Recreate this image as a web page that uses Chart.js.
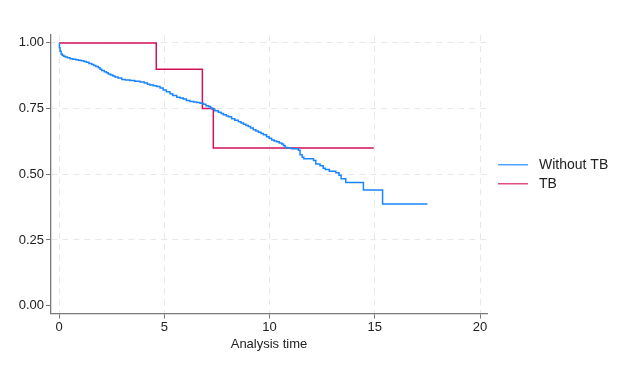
<!DOCTYPE html>
<html>
<head>
<meta charset="utf-8">
<script src="https://cdn.jsdelivr.net/npm/chart.js@4"></script>
<style>
html,body{margin:0;padding:0;background:#fff;}
#wrap{width:635px;height:365px;}
</style>
</head>
<body>
<div id="wrap"><canvas id="c" width="635" height="365"></canvas></div>
<script>
// Kaplan-Meier estimates, group "Without TB"
const kmTime = [0, 0.02, 0.05, 0.1, 0.15, 0.22, 0.3, 0.4, 0.52, 0.65, 0.8, 0.92, 1.05, 1.18, 1.3, 1.42, 1.55, 1.65, 1.75, 1.87, 1.95, 2.03, 2.15, 2.25, 2.34, 2.45, 2.56, 2.66, 2.8, 2.98, 3.15, 3.37, 3.6, 3.85, 4.05, 4.2, 4.32, 4.48, 4.64, 4.8, 4.95, 5.1, 5.27, 5.4, 5.59, 5.75, 5.9, 6.05, 6.22, 6.4, 6.54, 6.7, 6.86, 6.98, 7.1, 7.2, 7.27, 7.4, 7.57, 7.7, 7.81, 7.95, 8.05, 8.2, 8.35, 8.52, 8.65, 8.76, 8.88, 8.99, 9.1, 9.23, 9.35, 9.47, 9.6, 9.71, 9.86, 9.98, 10.1, 10.22, 10.34, 10.46, 10.58, 10.66, 10.74, 10.85, 11.05, 11.37, 11.45, 11.55, 11.63, 12.09, 12.2, 12.4, 12.55, 12.65, 12.84, 13.15, 13.3, 13.4, 13.62, 14.46, 15.37, 17.5];
const kmSurvival = [1.0, 0.981, 0.968, 0.958, 0.953, 0.949, 0.946, 0.943, 0.940, 0.938, 0.936, 0.934, 0.932, 0.929, 0.926, 0.922, 0.918, 0.914, 0.910, 0.905, 0.900, 0.895, 0.890, 0.886, 0.882, 0.878, 0.874, 0.870, 0.866, 0.861, 0.859, 0.857, 0.854, 0.851, 0.847, 0.843, 0.840, 0.837, 0.834, 0.828, 0.821, 0.814, 0.806, 0.800, 0.793, 0.790, 0.786, 0.781, 0.777, 0.775, 0.773, 0.770, 0.766, 0.761, 0.758, 0.752, 0.748, 0.742, 0.736, 0.731, 0.726, 0.722, 0.719, 0.711, 0.706, 0.700, 0.695, 0.690, 0.686, 0.682, 0.676, 0.669, 0.665, 0.660, 0.655, 0.650, 0.643, 0.637, 0.630, 0.627, 0.624, 0.619, 0.615, 0.609, 0.602, 0.600, 0.597, 0.591, 0.574, 0.565, 0.559, 0.552, 0.539, 0.532, 0.523, 0.518, 0.511, 0.506, 0.496, 0.483, 0.469, 0.440, 0.387, 0.387];

// Kaplan-Meier estimates, group "TB"
const tbTime = [0, 4.62, 6.81, 7.33, 14.95];
const tbSurvival = [1.0, 0.9, 0.75, 0.6, 0.6];

const seriesNames = ["Without TB", "TB"];
const xTicks = [0, 5, 10, 15, 20];
const yTicks = [0.00, 0.25, 0.50, 0.75, 1.00];
const xTitle = "Analysis time";

const BLUE = "#1a85ff";
const RED = "#d41159";
const TEXT = "#222222";
const AXIS = "#7a7a7a";
const GRID = "#e8e8e8";
const FONT = "'Liberation Sans', Arial, sans-serif";

const toPoints = (xs, ys) => xs.map((x, i) => ({x: x, y: ys[i]}));

const legendPlugin = {
  id: 'sideLegend',
  afterDraw(chart) {
    const ctx = chart.ctx;
    const area = chart.chartArea;
    const cy = (area.top + area.bottom) / 2;
    const rowGap = 19;
    const x0 = area.right + 11;
    ctx.save();
    chart.data.datasets.forEach((ds, i) => {
      const y = cy - rowGap / 2 + i * rowGap;
      ctx.strokeStyle = ds.borderColor;
      ctx.lineWidth = 1.5;
      ctx.globalAlpha = 0.75;
      ctx.beginPath();
      ctx.moveTo(x0, y);
      ctx.lineTo(x0 + 30, y);
      ctx.stroke();
      ctx.globalAlpha = 1;
      ctx.fillStyle = TEXT;
      ctx.font = "14px " + FONT;
      ctx.textBaseline = "middle";
      ctx.textAlign = "left";
      ctx.fillText(ds.label, x0 + 41, y);
    });
    ctx.restore();
  }
};

new Chart(document.getElementById('c'), {
  type: 'line',
  data: {
    datasets: [
      {label: seriesNames[0], data: toPoints(kmTime, kmSurvival), borderColor: BLUE, backgroundColor: BLUE, borderWidth: 1.5, pointRadius: 0, stepped: true, fill: false},
      {label: seriesNames[1], data: toPoints(tbTime, tbSurvival), borderColor: RED, backgroundColor: RED, borderWidth: 1.5, pointRadius: 0, stepped: true, fill: false}
    ]
  },
  options: {
    responsive: false,
    animation: false,
    devicePixelRatio: 1,
    layout: {padding: {left: 0, top: 35, right: 148, bottom: 0}},
    plugins: {legend: {display: false}, tooltip: {enabled: false}},
    scales: {
      x: {
        type: 'linear',
        min: -0.38,
        max: 20.33,
        afterBuildTicks: s => { s.ticks = xTicks.map(v => ({value: v})); },
        afterFit: s => { s.height = 51.5; },
        ticks: {font: {family: FONT, size: 13}, color: TEXT, padding: 1, maxRotation: 0, autoSkip: false},
        grid: {color: GRID, lineWidth: 1, tickLength: 5, tickColor: AXIS, tickWidth: 1, tickBorderDash: []},
        border: {display: true, color: AXIS, width: 1.3, dash: [6, 5]},
        title: {display: true, text: xTitle, font: {family: FONT, size: 13}, color: TEXT, padding: {top: 0, bottom: 13}}
      },
      y: {
        type: 'linear',
        min: -0.03,
        max: 1.03,
        afterBuildTicks: s => { s.ticks = yTicks.map(v => ({value: v})); },
        afterFit: s => { s.width = 51; },
        ticks: {font: {family: FONT, size: 13}, color: TEXT, padding: 2, callback: v => Number(v).toFixed(2)},
        grid: {color: ctx => (ctx.tick && ctx.tick.value === 0 ? 'rgba(0,0,0,0)' : GRID), lineWidth: 1, tickLength: 5, tickColor: AXIS, tickWidth: 1, tickBorderDash: []},
        border: {display: true, color: AXIS, width: 1.3, dash: [6, 5]}
      }
    }
  },
  plugins: [legendPlugin]
});
</script>
</body>
</html>
